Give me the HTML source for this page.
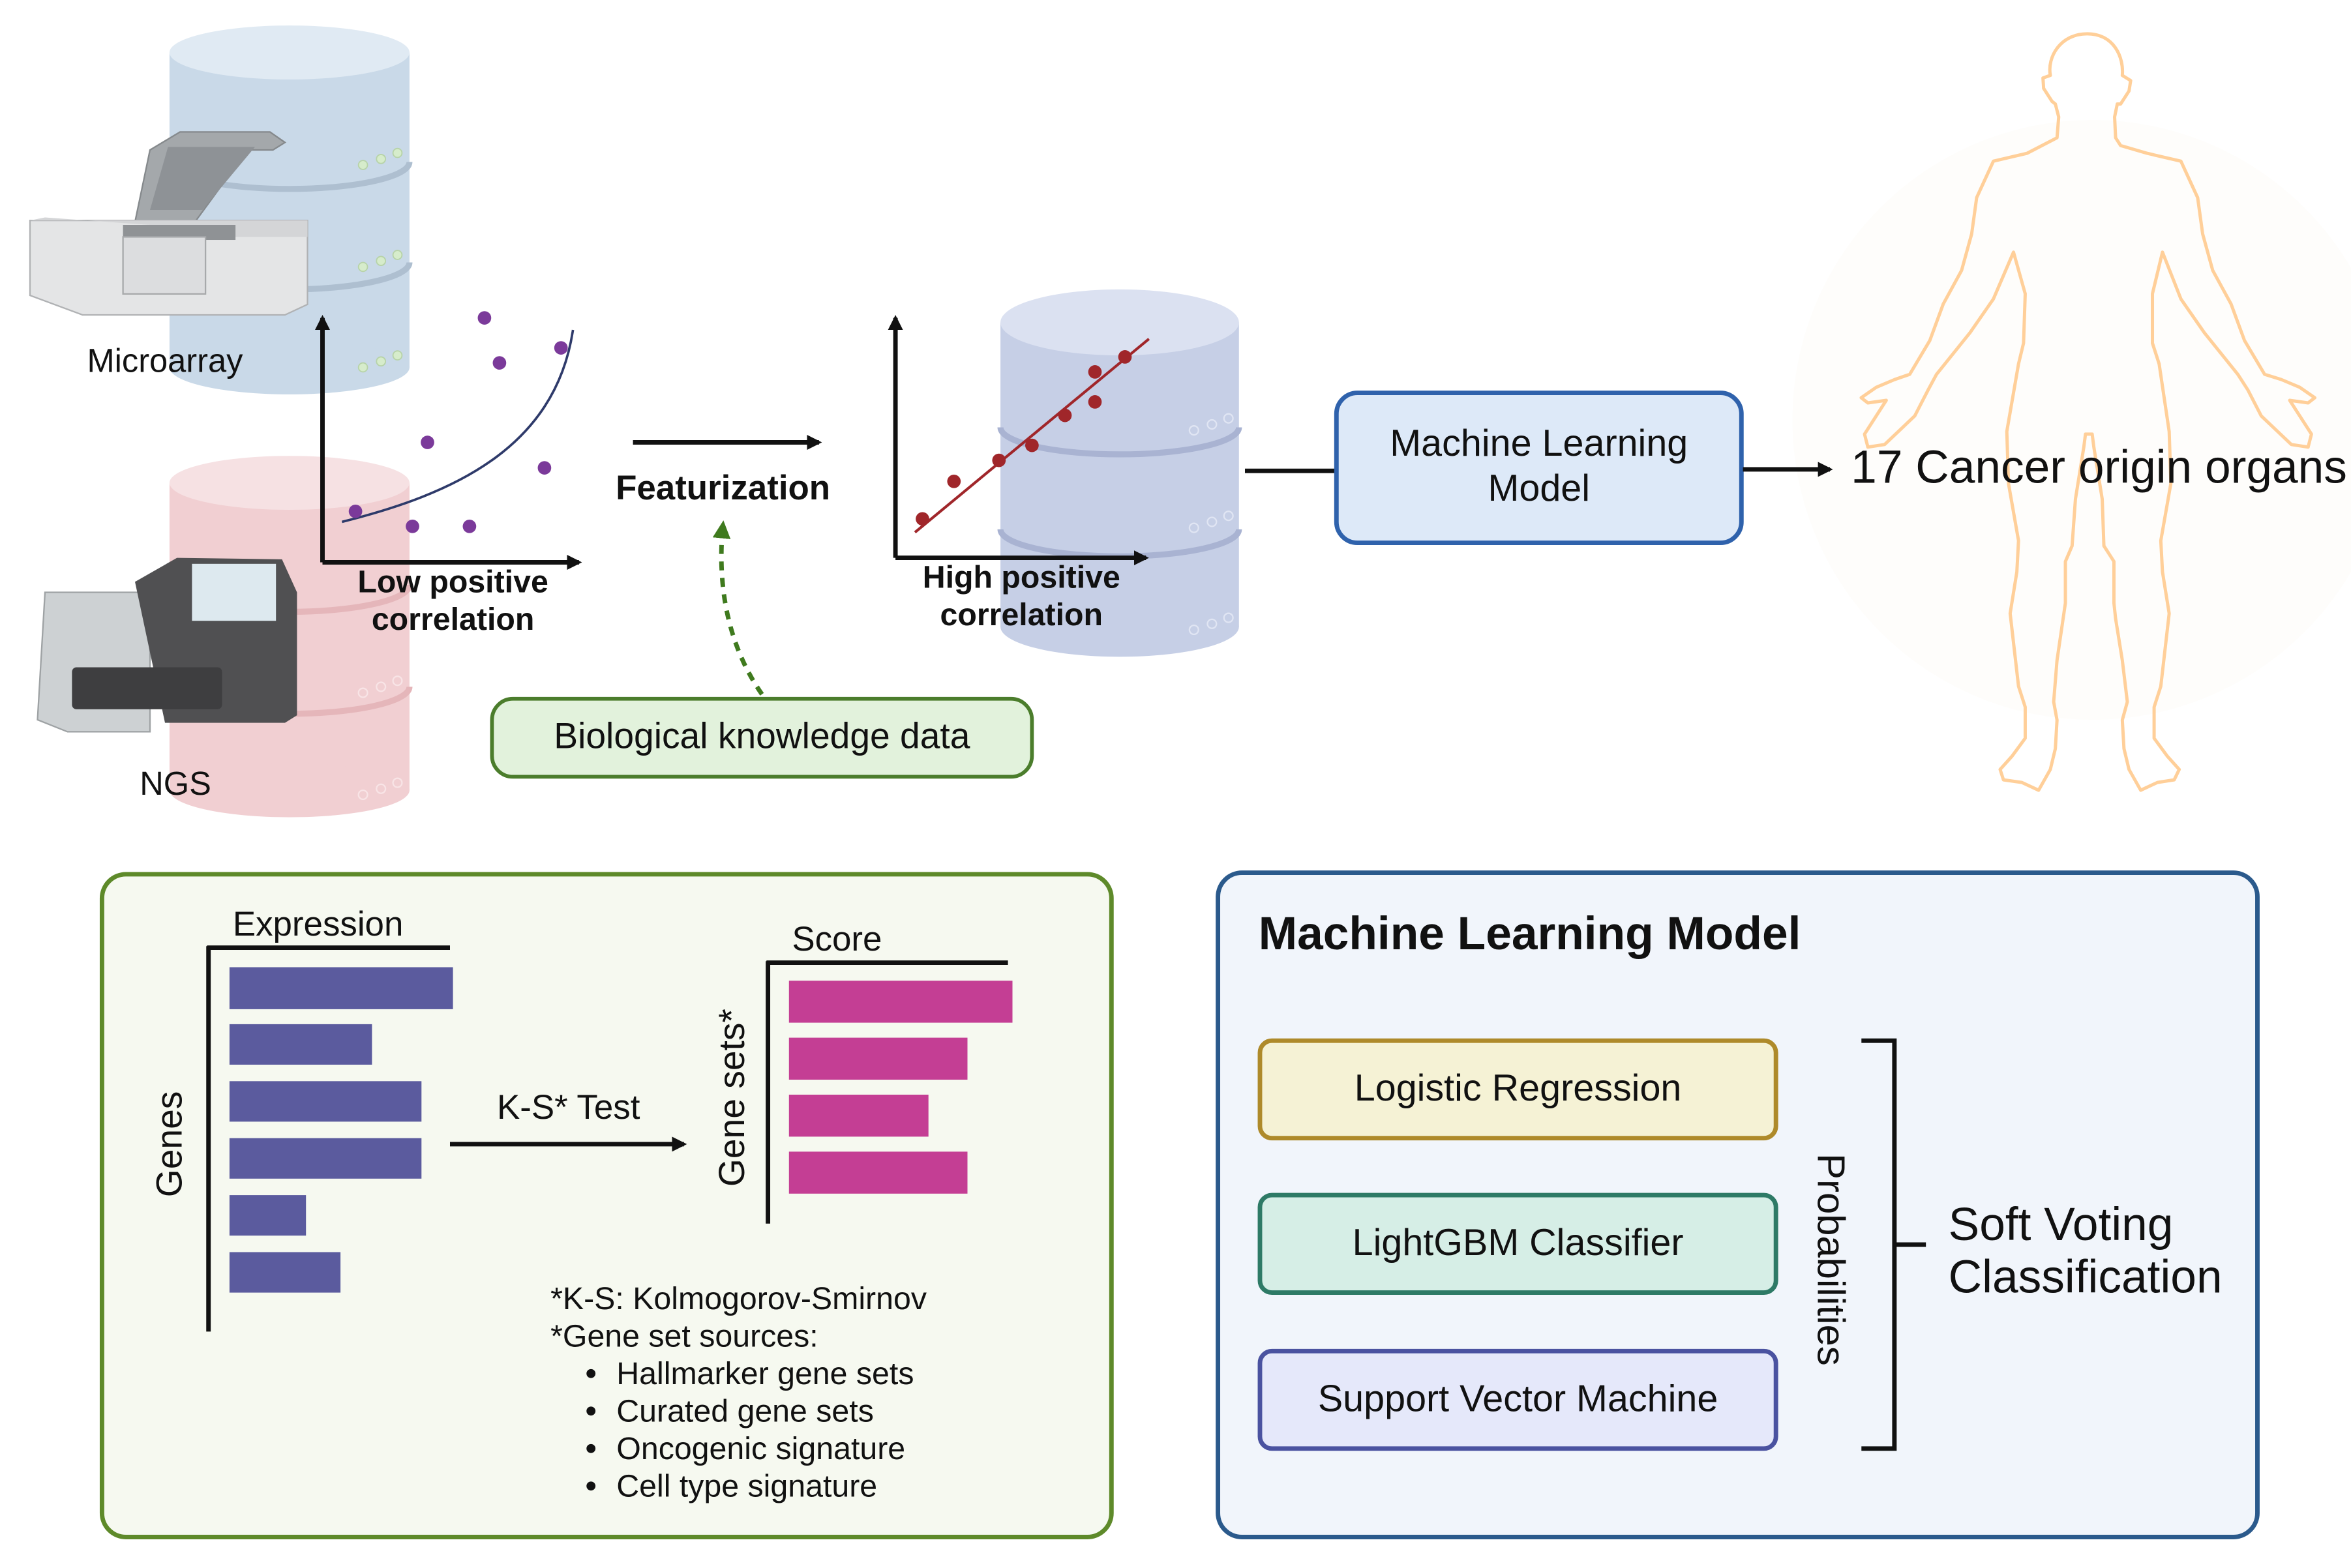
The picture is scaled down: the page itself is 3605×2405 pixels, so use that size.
<!DOCTYPE html>
<html><head><meta charset="utf-8"><style>
html,body{margin:0;padding:0;background:#fff}
svg{display:block}
text{font-family:"Liberation Sans",Arial,sans-serif;fill:#111}
</style></head><body>
<svg width="3605" height="2405" viewBox="0 0 1567.4 1045.65" xmlns="http://www.w3.org/2000/svg">
<defs>
<marker id="ah" markerWidth="10" markerHeight="10" refX="8" refY="5" orient="auto" markerUnits="userSpaceOnUse"><path d="M0,0 L10,5 L0,10 Z" fill="#111"/></marker>
<marker id="ahg" markerWidth="12" markerHeight="12" refX="9" refY="6" orient="auto" markerUnits="userSpaceOnUse"><path d="M0,0 L12,6 L0,12 Z" fill="#3f7a1e"/></marker>
</defs>

<!-- human silhouette -->
<circle cx="1395" cy="280" r="200" fill="#fefdfb"/>
<g transform="translate(1217.4,0) scale(0.2232,0.3467)">
<path vector-effect="non-scaling-stroke" fill="none" stroke="#ffcf99" stroke-width="5" stroke-linejoin="round" d="M780,65 C860,65 890,110 885,145 L910,155 905,175 880,200 870,200 862,225 865,265 880,280 960,295 1060,310 1110,380 1125,450 1155,520 1210,585 1250,655 1310,720 1360,730 1415,745 1460,765 1440,775 1385,770 1450,835 1440,860 1390,855 1300,800 1260,750 1230,720 1130,640 1060,575 1005,485 975,565 975,660 995,700 1025,830 1030,930 1000,1040 1005,1100 1025,1180 1000,1320 980,1360 980,1420 1020,1455 1055,1480 1040,1500 990,1505 940,1520 905,1480 890,1440 885,1385 900,1350 885,1270 865,1190 860,1160 860,1080 830,1050 825,960 800,860 795,835 775,835 770,860 745,960 735,1050 715,1080 715,1160 690,1270 680,1350 690,1385 685,1440 670,1480 635,1520 585,1505 530,1500 520,1480 555,1455 595,1420 595,1360 575,1320 550,1180 570,1100 575,1040 545,930 540,830 575,700 590,660 595,565 560,485 500,575 430,640 330,720 305,750 265,800 175,855 125,860 115,835 180,770 125,775 105,765 150,745 205,730 250,720 310,655 350,585 405,520 435,450 450,380 500,310 600,295 690,265 695,225 685,200 675,195 650,170 648,150 670,145 C660,110 700,65 780,65 Z"/>
</g>

<!-- Microarray cylinder -->
<g>
<rect x="113" y="35" width="160" height="210" fill="#c9d9e8"/>
<ellipse cx="193" cy="245" rx="80" ry="18" fill="#c9d9e8"/>
<path d="M113,108 A80,18 0 0 0 273,108" fill="none" stroke="#aebfd0" stroke-width="4"/>
<path d="M113,175 A80,18 0 0 0 273,175" fill="none" stroke="#aebfd0" stroke-width="4"/>
<ellipse cx="193" cy="35" rx="80" ry="18" fill="#e0eaf3"/>
<g fill="#d6eccb" stroke="#b7d3a8" stroke-width="0.8">
<circle cx="242" cy="110" r="3"/><circle cx="254" cy="106" r="3"/><circle cx="265" cy="102" r="3"/>
<circle cx="242" cy="178" r="3"/><circle cx="254" cy="174" r="3"/><circle cx="265" cy="170" r="3"/>
<circle cx="242" cy="245" r="3"/><circle cx="254" cy="241" r="3"/><circle cx="265" cy="237" r="3"/>
</g>
</g>
<!-- microarray machine -->
<g>
<path d="M90,148 L100,100 L120,88 L180,88 L190,95 L182,100 L165,100 L130,148 Z" fill="#a4a8ab" stroke="#85898c"/>
<path d="M100,140 L112,98 L170,98 L135,140 Z" fill="#8e9296"/>
<path d="M20,147 L205,147 L205,203 L190,210 L55,210 L20,197 Z" fill="#e4e5e6" stroke="#b0b2b4"/>
<path d="M20,147 L30,145 L100,150 L115,158 L205,158 L205,147 Z" fill="#d4d5d7"/>
<rect x="82" y="150" width="75" height="10" fill="#8f9295"/>
<rect x="82" y="158" width="55" height="38" fill="#dcdddf" stroke="#a7a9ab"/>
</g>
<text x="110" y="248" font-size="22" text-anchor="middle">Microarray</text>

<!-- NGS cylinder -->
<g>
<rect x="113" y="322" width="160" height="205" fill="#f1cfd2"/>
<ellipse cx="193" cy="527" rx="80" ry="18" fill="#f1cfd2"/>
<path d="M113,390 A80,18 0 0 0 273,390" fill="none" stroke="#e5b6ba" stroke-width="4"/>
<path d="M113,458 A80,18 0 0 0 273,458" fill="none" stroke="#e5b6ba" stroke-width="4"/>
<ellipse cx="193" cy="322" rx="80" ry="18" fill="#f6e1e3"/>
<g fill="none" stroke="#f8e4e6" stroke-width="1">
<circle cx="242" cy="462" r="3"/><circle cx="254" cy="458" r="3"/><circle cx="265" cy="454" r="3"/>
<circle cx="242" cy="530" r="3"/><circle cx="254" cy="526" r="3"/><circle cx="265" cy="522" r="3"/>
</g>
</g>
<!-- NGS machine -->
<g>
<path d="M30,395 L100,395 L100,488 L45,488 L25,480 Z" fill="#cdd1d3" stroke="#9ea2a4"/>
<path d="M90,388 L118,372 L188,373 L198,395 L198,477 L190,482 L110,482 Z" fill="#505052"/>
<rect x="128" y="376" width="56" height="38" fill="#dde9ef"/>
<rect x="48" y="445" width="100" height="28" rx="3" fill="#3e3e40"/>
</g>
<text x="117" y="530" font-size="22" text-anchor="middle">NGS</text>

<!-- low correlation plot -->
<path d="M215,375 L215,212" stroke="#111" stroke-width="3" fill="none" marker-end="url(#ah)"/>
<path d="M215,375 L386,375" stroke="#111" stroke-width="3" fill="none" marker-end="url(#ah)"/>
<path d="M228,348 C300,330 370,300 382,220" stroke="#2e3a6a" stroke-width="1.6" fill="none"/>
<g fill="#7b3a9a">
<circle cx="323" cy="212" r="4.5"/><circle cx="333" cy="242" r="4.5"/><circle cx="374" cy="232" r="4.5"/>
<circle cx="285" cy="295" r="4.5"/><circle cx="363" cy="312" r="4.5"/><circle cx="237" cy="341" r="4.5"/>
<circle cx="275" cy="351" r="4.5"/><circle cx="313" cy="351" r="4.5"/>
</g>
<text x="302" y="395" font-size="21" font-weight="bold" text-anchor="middle">Low positive</text>
<text x="302" y="420" font-size="21" font-weight="bold" text-anchor="middle">correlation</text>

<path d="M422,295 L546,295" stroke="#111" stroke-width="3" fill="none" marker-end="url(#ah)"/>
<text x="482" y="333" font-size="23" font-weight="bold" text-anchor="middle">Featurization</text>
<path d="M508,463 C485,430 478,390 482,350" stroke="#3f7a1e" stroke-width="3" stroke-dasharray="6,5" fill="none" marker-end="url(#ahg)"/>
<rect x="328" y="466" width="360" height="52" rx="14" fill="#e2f2dc" stroke="#4b7d2c" stroke-width="2.5"/>
<text x="508" y="499" font-size="24" text-anchor="middle">Biological knowledge data</text>

<!-- lilac cylinder -->
<g>
<rect x="667" y="215" width="159" height="203" fill="#c6cfe6"/>
<ellipse cx="746.5" cy="418" rx="79.5" ry="20" fill="#c6cfe6"/>
<path d="M667,285 A79.5,18 0 0 0 826,285" fill="none" stroke="#a9b3d2" stroke-width="4"/>
<path d="M667,353 A79.5,18 0 0 0 826,353" fill="none" stroke="#a9b3d2" stroke-width="4"/>
<ellipse cx="746.5" cy="215" rx="79.5" ry="22" fill="#dbe1f1"/>
<g fill="none" stroke="#e0e5f3" stroke-width="1">
<circle cx="796" cy="287" r="3"/><circle cx="808" cy="283" r="3"/><circle cx="819" cy="279" r="3"/>
<circle cx="796" cy="352" r="3"/><circle cx="808" cy="348" r="3"/><circle cx="819" cy="344" r="3"/>
<circle cx="796" cy="420" r="3"/><circle cx="808" cy="416" r="3"/><circle cx="819" cy="412" r="3"/>
</g>
</g>
<path d="M597,372 L597,212" stroke="#111" stroke-width="3" fill="none" marker-end="url(#ah)"/>
<path d="M597,372 L764,372" stroke="#111" stroke-width="3" fill="none" marker-end="url(#ah)"/>
<path d="M610,355 L766,226" stroke="#a0262a" stroke-width="1.8"/>
<g fill="#a0262a">
<circle cx="615" cy="346" r="4.5"/><circle cx="636" cy="321" r="4.5"/><circle cx="666" cy="307" r="4.5"/>
<circle cx="688" cy="297" r="4.5"/><circle cx="710" cy="277" r="4.5"/><circle cx="730" cy="268" r="4.5"/>
<circle cx="730" cy="248" r="4.5"/><circle cx="750" cy="238" r="4.5"/>
</g>
<text x="681" y="392" font-size="21" font-weight="bold" text-anchor="middle">High positive</text>
<text x="681" y="417" font-size="21" font-weight="bold" text-anchor="middle">correlation</text>

<path d="M830,314 L891,314" stroke="#111" stroke-width="3"/>
<rect x="891" y="262" width="270" height="100" rx="14" fill="#dde9f8" stroke="#2f62ac" stroke-width="3"/>
<text x="1026" y="304" font-size="25" text-anchor="middle">Machine Learning</text>
<text x="1026" y="334" font-size="25" text-anchor="middle">Model</text>
<path d="M1162,313 L1220,313" stroke="#111" stroke-width="3" fill="none" marker-end="url(#ah)"/>
<text x="1234" y="322" font-size="31">17 Cancer origin organs</text>

<!-- bottom left panel -->
<rect x="68" y="583" width="673" height="442" rx="16" fill="#f6f9f0" stroke="#5e8a2a" stroke-width="3"/>
<text x="212" y="624" font-size="23" text-anchor="middle">Expression</text>
<path d="M138,632 L300,632 M139,631 L139,888" stroke="#111" stroke-width="3" fill="none"/>
<g fill="#5b5b9e">
<rect x="153" y="645" width="149" height="28"/>
<rect x="153" y="683" width="95" height="27"/>
<rect x="153" y="721" width="128" height="27"/>
<rect x="153" y="759" width="128" height="27"/>
<rect x="153" y="797" width="51" height="27"/>
<rect x="153" y="835" width="74" height="27"/>
</g>
<text transform="translate(121,763) rotate(-90)" font-size="24" text-anchor="middle">Genes</text>
<text x="379" y="746" font-size="23" text-anchor="middle">K-S* Test</text>
<path d="M300,763 L456,763" stroke="#111" stroke-width="3" fill="none" marker-end="url(#ah)"/>
<text transform="translate(496,732) rotate(-90)" font-size="24" text-anchor="middle">Gene sets*</text>
<text x="558" y="634" font-size="23" text-anchor="middle">Score</text>
<path d="M511,642 L672,642 M512,641 L512,816" stroke="#111" stroke-width="3" fill="none"/>
<g fill="#c43e94">
<rect x="526" y="654" width="149" height="28"/>
<rect x="526" y="692" width="119" height="28"/>
<rect x="526" y="730" width="93" height="28"/>
<rect x="526" y="768" width="119" height="28"/>
</g>
<g font-size="21">
<text x="367" y="873">*K-S: Kolmogorov-Smirnov</text>
<text x="367" y="898">*Gene set sources:</text>
<text x="411" y="923">Hallmarker gene sets</text>
<text x="411" y="948">Curated gene sets</text>
<text x="411" y="973">Oncogenic signature</text>
<text x="411" y="998">Cell type signature</text>
</g>
<g fill="#111"><circle cx="394" cy="916" r="3"/><circle cx="394" cy="941" r="3"/><circle cx="394" cy="966" r="3"/><circle cx="394" cy="991" r="3"/></g>

<!-- bottom right panel -->
<rect x="812" y="582" width="693" height="443" rx="16" fill="#f1f5fb" stroke="#2b5a8c" stroke-width="3"/>
<text x="839" y="633" font-size="31" font-weight="bold">Machine Learning Model</text>
<rect x="840" y="694" width="344" height="65" rx="8" fill="#f5f2d5" stroke="#ae8a2a" stroke-width="3"/>
<text x="1012" y="734" font-size="25" text-anchor="middle">Logistic Regression</text>
<rect x="840" y="797" width="344" height="65" rx="8" fill="#d6eee6" stroke="#2e7a66" stroke-width="3"/>
<text x="1012" y="837" font-size="25" text-anchor="middle">LightGBM Classifier</text>
<rect x="840" y="901" width="344" height="65" rx="8" fill="#e5e8fa" stroke="#4a52a0" stroke-width="3"/>
<text x="1012" y="941" font-size="25" text-anchor="middle">Support Vector Machine</text>
<text transform="translate(1212,840) rotate(90)" font-size="26" text-anchor="middle">Probabilities</text>
<path d="M1241,694 L1263,694 L1263,966 L1241,966 M1263,830 L1284,830" stroke="#111" stroke-width="3" fill="none"/>
<text x="1299" y="827" font-size="31">Soft Voting</text>
<text x="1299" y="862" font-size="31">Classification</text>
</svg>
</body></html>
